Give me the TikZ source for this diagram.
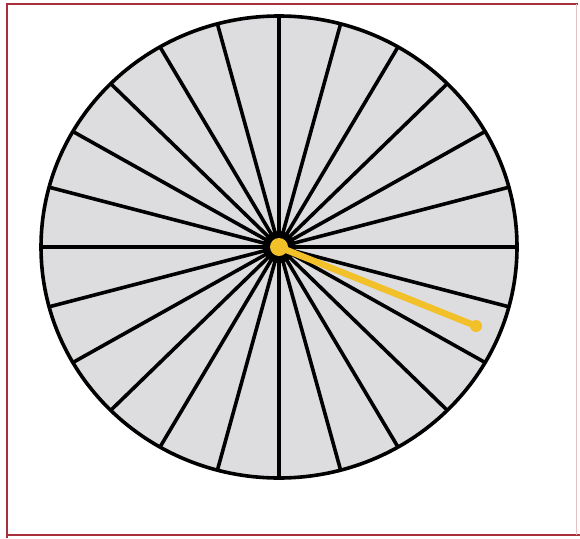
\documentclass[tikz,border=0pt]{standalone}
\usetikzlibrary{calc}
\definecolor{wheelgray}{RGB}{221,221,223}
\definecolor{framered}{RGB}{168,48,58}
\definecolor{pointeryellow}{RGB}{242,192,40}
\tikzset{
  spoke/.style={line width=3.6pt, black},
  rim/.style={line width=3.6pt, black, fill=wheelgray},
  framestyle/.style={line width=2.2pt, framered},
  pointer/.style={line width=6.5pt, pointeryellow, line cap=round}
}
\begin{document}
\begin{tikzpicture}[x=1pt,y=-1pt]
\useasboundingbox (0,0) rectangle (580,538);
\fill[white] (0,0) rectangle (580,538);
% frame
\draw[framestyle] (7,538) -- (7,4) -- (578,4);
\draw[framestyle] (7,535) -- (580,535);
\draw[line width=0.8pt, framered!30] (576,4) -- (576,535);
% wheel
\coordinate (c) at (279,247);
\draw[rim] (c) ellipse [x radius=238, y radius=231];
\foreach \a in {0,15,...,345}{
  \draw[spoke] (c) -- ($(c)+(\a:238 and 231)$);
}
% hub
\fill[black] (c) circle (16);
\node[circle, fill=pointeryellow, minimum size=18pt, inner sep=0pt] (dot) at (c) {};
\coordinate (tip) at (476,326);
\draw[pointer] (dot.center) -- (tip);
\fill[pointeryellow] (tip) circle (6);
\end{tikzpicture}
\end{document}
